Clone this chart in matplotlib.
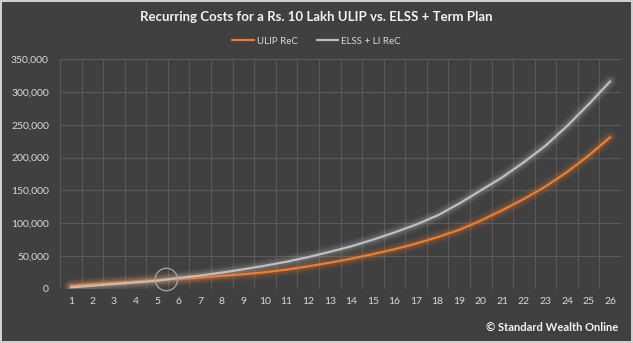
import numpy as np
import matplotlib
matplotlib.use('Agg')
import matplotlib.pyplot as plt
from matplotlib.ticker import FuncFormatter, MultipleLocator

# years 1..26
years = list(range(1, 27))
ulip_rec = [5000, 7500, 9500, 11500, 14000, 15000, 17500, 20000, 22500, 25500,
            29500, 34500, 40000, 46000, 53000, 60500, 69000, 79000, 90000, 104000,
            120000, 137000, 156000, 178000, 203000, 231000]
elss_rec = [2500, 5000, 7500, 10000, 12500, 17000, 20500, 25000, 30000, 35500,
            41500, 48500, 56500, 65000, 75000, 86000, 98000, 112000, 130000, 150000,
            170000, 193000, 218000, 248000, 281000, 316000]
labels = ['ULIP ReC', 'ELSS + LI ReC']

bg = '#404040'
txt = '#d9d9d9'
orange = '#ED7D31'
grey = '#BFBFBF'
plt.rcParams['font.family'] = ['Lato', 'DejaVu Sans']

fig = plt.figure(figsize=(6.33, 3.43), dpi=100)
fig.patch.set_facecolor(bg)
fig.patch.set_edgecolor('#d0d0d0')
fig.patch.set_linewidth(1.5)
ax = fig.add_axes([60 / 633, 54 / 343, 561 / 633, 230 / 343])
ax.set_facecolor(bg)

x = np.array(years)
for y, c, lab in [(ulip_rec, orange, labels[0]), (elss_rec, grey, labels[1])]:
    # soft glow under the line
    for w, a in [(10, 0.06), (7, 0.09), (4.5, 0.14)]:
        ax.plot(x, y, color=c, lw=w, alpha=a, solid_capstyle='round', zorder=2)
    ax.plot(x, y, color=c, lw=1.6, label=lab, solid_capstyle='round', zorder=3)

# circle where the two curves cross
d = np.array(ulip_rec) - np.array(elss_rec)
i = np.where(np.diff(np.sign(d)) != 0)[0][0]
t = d[i] / (d[i] - d[i + 1])
cx = x[i] + t
cy = ulip_rec[i] + t * (ulip_rec[i + 1] - ulip_rec[i])
ax.scatter([cx], [cy], s=260, facecolors='none', edgecolors='#a0a0a0', lw=1,
           zorder=4, clip_on=False)

ax.set_xlim(0.5, 26.5)
ax.set_ylim(0, 350000)
ax.yaxis.set_major_locator(MultipleLocator(50000))
ax.yaxis.set_major_formatter(FuncFormatter(lambda v, p: f'{int(v):,}'))
ax.set_xticks(years)
ax.set_xticks(np.arange(0.5, 27, 1), minor=True)
ax.grid(False)
ax.grid(True, axis='y', which='major', color='#5a5a5a', lw=0.8)
ax.grid(True, axis='x', which='minor', color='#5a5a5a', lw=0.8)
ax.tick_params(which='both', length=0)
ax.tick_params(axis='both', colors=txt, labelsize=7.5)
ax.tick_params(axis='x', pad=6)
ax.tick_params(axis='y', pad=8)
for s in ax.spines.values():
    s.set_visible(False)

fig.text(0.5, 1 - 17 / 343, 'Recurring Costs for a Rs. 10 Lakh ULIP vs. ELSS + Term Plan',
         ha='center', va='center', color='#f2f2f2', fontsize=9.5, fontweight='bold')
fig.legend(loc='center', bbox_to_anchor=(0.5, 1 - 41 / 343), ncol=2, frameon=False,
           fontsize=7, labelcolor=txt, handlelength=2.2, handletextpad=0.3,
           columnspacing=2.0)
fig.text(618 / 633, 1 - 327 / 343, '© Standard Wealth Online', ha='right', va='center',
         color='#f5f5f5', fontsize=8, fontweight='bold')

fig.savefig('out.png', dpi=100, facecolor=fig.get_facecolor(), edgecolor=fig.get_edgecolor())
